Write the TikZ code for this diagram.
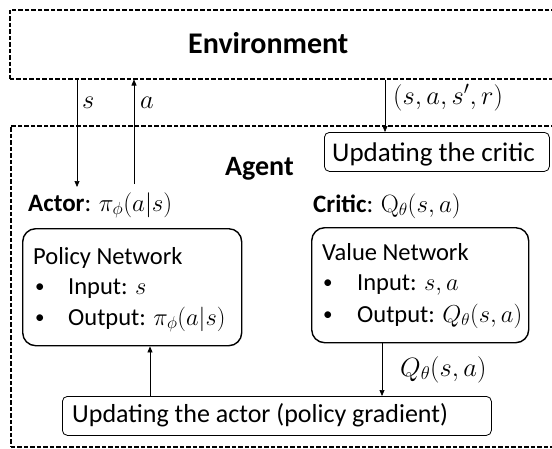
\RequirePackage{fix-cm}
\documentclass[tikz,border=0pt]{standalone}
\usepackage[no-math]{fontspec}
\setmainfont{Carlito}
\usetikzlibrary{arrows.meta}

\begin{document}
\begin{tikzpicture}[x=1pt,y=-1pt,
  dashbox/.style={draw, dash pattern=on 4.5pt off 2pt, line width=1.5pt, inner sep=0pt, anchor=north west},
  netbox/.style={draw, rounded corners=13pt, line width=1.4pt, inner sep=0pt, anchor=north west},
  updbox/.style={draw, rounded corners=5pt, line width=0.8pt, inner sep=0pt, anchor=north west},
  flow/.style={-{Triangle[length=6pt,width=5pt]}, line width=0.7pt},
  title/.style={inner sep=0pt, anchor=base west, font=\bfseries\fontsize{30}{34}\selectfont},
  upd/.style={inner sep=0pt, anchor=base west, font=\fontsize{27}{32}\selectfont},
  lbl/.style={inner sep=0pt, anchor=base west, font=\fontsize{25}{30}\selectfont},
  net/.style={inner sep=0pt, anchor=base west, font=\fontsize{24.5}{29}\selectfont},
  dot/.style={inner sep=0pt, anchor=base west, font=\fontsize{19}{24}\selectfont},
  sig/.style={inner sep=0pt, anchor=base west, font=\fontsize{26.5}{31}\selectfont},
]
\useasboundingbox (0,0) rectangle (552,448);
\clip (0,0) rectangle (552,448);

% outer dashed frames (open on the right)
\node[dashbox, minimum width=570pt, minimum height=69pt] (env) at (9,9) {};
\node[dashbox, minimum width=570pt, minimum height=321pt] (agent) at (10,125) {};
\node[title] (envtitle) at (188,53) {Environment};
\node[title, font=\bfseries\fontsize{28}{32}\selectfont] (agenttitle) at (225,175) {Agent};

% update boxes
\node[updbox, minimum width=225pt, minimum height=39pt] (updcritic) at (324,132) {};
\node[upd] (updcritictxt) at (332,161) {Updating the critic};
\node[updbox, minimum width=429pt, minimum height=39pt] (updactor) at (62,396) {};
\node[upd, font=\fontsize{26}{30}\selectfont] (updactortxt) at (72,422) {Updating the actor (policy gradient)};

% actor
\node[lbl] (actorlbl) at (28,211) {\textbf{Actor}: $\pi_\phi(a|s)$};
\node[netbox, minimum width=219pt, minimum height=117pt] (policy) at (22,228) {};
\node[net] (p1) at (33,264) {Policy Network};
\node[dot] (p2b) at (35,292) {•};
\node[net] (p2) at (68,294) {Input: $s$};
\node[dot] (p3b) at (35,323) {•};
\node[net] (p3) at (68,325) {Output: $\pi_\phi(a|s)$};

% critic
\node[lbl] (criticlbl) at (313,212) {\textbf{Critic}: $\mathrm{Q}_\theta(s,a)$};
\node[netbox, minimum width=217pt, minimum height=115pt] (value) at (311,227) {};
\node[net] (v1) at (322,260) {Value Network};
\node[dot] (v2b) at (323,288) {•};
\node[net] (v2) at (357,290) {Input: $s,a$};
\node[dot] (v3b) at (323,320) {•};
\node[net] (v3) at (357,322) {Output: $Q_\theta(s,a)$};

% signal labels
\node[sig] (slbl) at (82,108) {$s$};
\node[sig] (albl) at (140,108) {$a$};
\node[sig] (tuple) at (393,104) {$(s,a,s',r)$};
\node[sig] (qlbl) at (400,376) {$Q_\theta(s,a)$};

% connector end points
\coordinate (sEnd) at (77,187);
\coordinate (aStart) at (134,184);
\coordinate (tupleX) at (385,0);
\coordinate (gradX) at (150,0);
\coordinate (qX) at (382,0);

\draw[flow] (env.south -| sEnd) -- (sEnd);
\draw[flow] (aStart) -- (env.south -| aStart);
\draw[flow] (env.south -| tupleX) -- (updcritic.north -| tupleX);
\draw[flow] (updactor.north -| gradX) -- (policy.south -| gradX);
\draw[flow] (value.south -| qX) -- (updactor.north -| qX);
\end{tikzpicture}
\end{document}
